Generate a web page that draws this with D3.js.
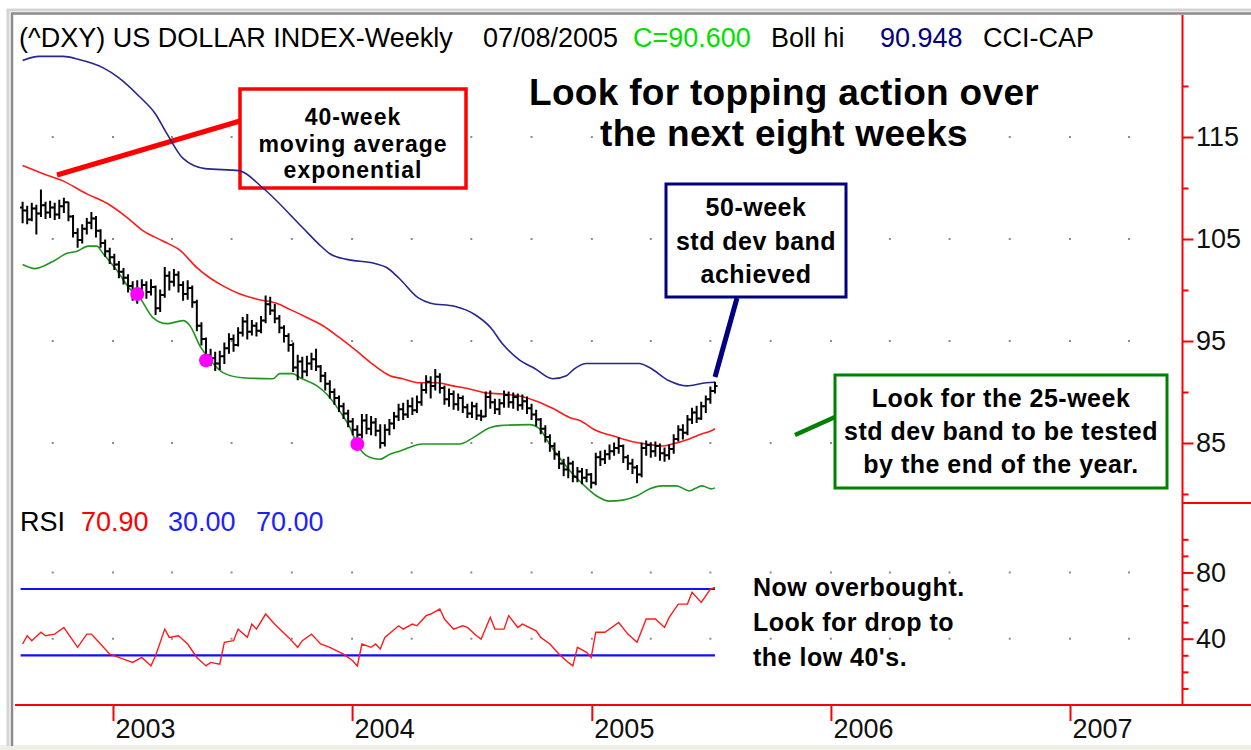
<!DOCTYPE html>
<html>
<head>
<meta charset="utf-8">
<script src="https://cdn.jsdelivr.net/npm/d3@7"></script>
<style>
  body { margin: 0; background: #fff; }
  svg { display: block; font-family: "Liberation Sans", Arial, sans-serif; }
</style>
</head>
<body>
<svg id="chart" width="1251" height="750"></svg>
<script>
// weekly bars: first bar Fri 16 Aug 2002, last bar Fri 08 Jul 2005
const firstWeek = new Date(2002, 7, 16)
const firstOpen = 108.1

const closes = [
  107.8, 106.9, 108.0, 107.5, 108.3, 107.6, 108.1, 107.4, 108.2, 108.6,
  107.2, 105.6, 104.9, 106.0, 106.6, 107.0, 105.8, 104.6, 103.8, 103.2,
  102.5, 101.8, 101.2, 100.4, 99.6, 99.8, 100.5, 99.8, 100.3, 98.2,
  99.5, 101.4, 100.8, 101.5, 100.5, 99.6, 100.2, 98.8, 96.5, 95.2,
  93.6, 93.3, 92.8, 93.5, 94.3, 95.2, 94.6, 95.8, 96.9, 95.9,
  96.5, 96.0, 97.0, 98.6, 98.0, 97.2, 96.3, 95.5, 94.6, 92.4,
  93.0, 92.0, 92.8, 93.2, 92.5, 91.6, 90.8, 90.0, 89.4, 88.6,
  87.9, 87.1, 86.3, 85.8, 87.2, 86.4, 87.0, 86.2, 85.0, 86.3,
  86.9, 87.6, 88.3, 87.8, 88.6, 88.2, 89.0, 90.2, 91.0, 90.6,
  91.5, 90.4, 89.3, 89.8, 88.8, 89.4, 88.5, 87.9, 88.6, 87.7,
  87.6, 89.5, 89.0, 88.3, 88.9, 89.7, 89.0, 89.5, 88.7, 89.1,
  88.4, 87.8, 87.3, 86.4, 85.6, 84.7, 83.9, 83.0, 82.4, 83.0,
  81.7, 82.2, 81.6, 81.9, 81.1, 83.6, 83.4, 83.9, 84.2, 84.5,
  84.7, 83.6, 83.0, 82.6, 81.9, 84.5, 84.8, 84.2, 84.7, 84.0,
  83.8, 84.4, 85.4, 86.3, 86.0, 87.3, 88.0, 87.4, 88.6, 89.3,
  90.1, 90.6
]
const highs = [
  108.6, 108.2, 108.5, 108.3, 109.8, 108.6, 108.7, 108.5, 108.8, 109.0,
  108.6, 107.3, 106.0, 106.4, 107.0, 107.6, 107.2, 105.9, 104.9, 104.1,
  103.5, 102.8, 102.1, 101.5, 100.8, 100.9, 101.0, 100.8, 101.0, 100.4,
  100.0, 102.2, 101.8, 102.0, 101.8, 100.8, 100.9, 100.4, 99.0, 96.8,
  95.3, 94.2, 93.9, 94.0, 94.8, 95.7, 95.6, 96.3, 97.3, 97.6,
  97.0, 96.8, 97.4, 99.4, 99.3, 98.6, 97.5, 96.5, 95.7, 94.8,
  93.6, 93.4, 93.5, 93.8, 94.2, 92.6, 91.9, 91.1, 90.3, 89.6,
  88.9, 88.2, 87.4, 86.7, 87.8, 87.8, 87.6, 87.4, 86.8, 86.8,
  87.3, 88.0, 88.8, 88.9, 89.2, 89.4, 89.6, 90.8, 91.6, 91.5,
  92.2, 91.8, 90.6, 90.3, 90.1, 89.8, 89.6, 88.8, 89.0, 88.9,
  88.2, 90.0, 90.1, 89.3, 89.3, 90.1, 90.0, 89.9, 89.8, 89.7,
  89.5, 88.8, 88.2, 87.4, 86.7, 85.8, 85.0, 84.2, 83.4, 83.6,
  83.2, 82.6, 82.5, 82.4, 82.0, 84.0, 84.2, 84.3, 84.8, 85.0,
  85.5, 84.8, 83.8, 83.4, 82.8, 85.0, 85.2, 85.0, 85.1, 84.9,
  84.5, 84.8, 85.8, 86.7, 86.8, 87.7, 88.4, 88.6, 89.0, 89.6,
  90.5, 90.95
]
const lows = [
  106.6, 106.5, 106.8, 105.5, 107.2, 107.0, 107.1, 106.9, 107.0, 107.6,
  106.8, 105.2, 104.2, 104.6, 105.5, 106.0, 105.2, 104.2, 103.3, 102.6,
  102.0, 101.2, 100.6, 99.8, 99.0, 98.7, 99.4, 99.2, 99.5, 97.6,
  97.9, 99.3, 100.0, 100.4, 99.8, 99.0, 99.1, 98.3, 96.0, 94.6,
  93.0, 92.6, 92.1, 92.2, 92.8, 93.8, 94.0, 94.5, 95.5, 95.2,
  95.6, 95.5, 95.8, 96.8, 97.6, 96.8, 95.8, 94.9, 94.0, 92.0,
  91.2, 91.4, 91.6, 92.2, 92.1, 91.0, 90.2, 89.4, 88.8, 88.1,
  87.4, 86.6, 85.8, 84.9, 85.5, 85.9, 85.8, 85.7, 84.5, 84.7,
  85.8, 86.4, 87.2, 87.3, 87.5, 87.8, 88.0, 88.7, 89.9, 89.4,
  90.2, 89.9, 88.8, 88.6, 88.3, 88.2, 88.0, 87.5, 87.5, 87.3,
  87.2, 87.6, 88.4, 87.9, 87.8, 88.5, 88.5, 88.4, 88.2, 88.3,
  87.9, 87.3, 86.7, 85.9, 85.1, 84.2, 83.4, 82.5, 81.8, 81.6,
  81.2, 81.2, 81.0, 81.2, 80.6, 80.9, 82.8, 83.0, 83.4, 83.8,
  84.0, 83.1, 82.4, 82.0, 81.1, 81.7, 83.8, 83.6, 83.7, 83.3,
  83.2, 83.4, 84.0, 85.2, 85.4, 85.8, 86.9, 87.0, 87.3, 88.0,
  88.9, 89.9
]

// bands as [week, value]
const upperBand = [
  [0, 122.5], [3.6, 122.9], [8.8, 122.9], [12.3, 122.6], [17.5, 121.8], [21, 120.8],
  [25.4, 119.0], [28.9, 117.3], [31.5, 115.3], [35, 112.9], [39.8, 111.9], [47.2, 111.7],
  [52.4, 110.0], [61.1, 106.1], [64.6, 104.5], [67.2, 103.5], [70.7, 103.0], [76.8, 102.6],
  [79.4, 102.2], [82, 101.2], [86.4, 99.2], [89, 98.7], [94.2, 98.4], [98.6, 97.6],
  [102.1, 96.3], [104.7, 94.7], [108.2, 93.2], [111.7, 92.3], [115.6, 91.3], [118.6, 91.6],
  [120.4, 92.3], [123, 92.8], [134.5, 92.8], [136.7, 92.4], [141, 91.1], [144.8, 90.6],
  [149.1, 90.9], [151, 90.95]
]
const emaLine = [
  [0, 112.2], [4.5, 111.4], [8.8, 110.7], [14.1, 109.4], [18.4, 108.5], [22.8, 107.1],
  [26.3, 105.8], [30.6, 104.8], [34.3, 103.9], [38, 102.2], [40.8, 101.2], [43.7, 100.4],
  [47.4, 99.6], [51.1, 99.1], [55.4, 98.7], [58.3, 98.1], [62, 97.3], [65.5, 96.5],
  [69.2, 95.3], [72.9, 94.0], [76.4, 92.7], [80.1, 91.6], [82.9, 91.3], [86.6, 90.9],
  [90.3, 90.9], [93.8, 90.6], [97.5, 90.3], [101.2, 89.9], [104.7, 89.8], [108.4, 89.6],
  [112.1, 89.1], [115.6, 88.4], [119.3, 87.5], [121.5, 87.2], [125.2, 86.2], [128.7, 85.7],
  [132.4, 85.2], [136, 84.9], [139.5, 84.7], [141.7, 84.9], [145.4, 85.4], [148.2, 85.9],
  [150.2, 86.2], [151, 86.4]
]
const lowerBand = [
  [0, 102.5], [2.7, 102.1], [6.6, 102.8], [9.7, 103.6], [11.9, 103.8], [14.3, 104.3],
  [16.2, 104.3], [17.5, 103.6], [20.6, 101.9], [23.4, 100.1], [25.6, 99.2], [28.4, 97.3],
  [31.5, 96.7], [35, 97.0], [36.5, 96.5], [38.7, 94.5], [40.8, 93.2], [43.7, 91.9],
  [48, 91.4], [54.6, 91.3], [56.1, 91.8], [58.9, 91.8], [60.5, 91.4], [64.2, 90.6],
  [66.3, 89.8], [69.2, 88.1], [71.4, 86.5], [72.9, 84.9], [75.7, 83.6], [77.9, 83.4],
  [80.1, 83.9], [82.2, 84.2], [87.3, 84.9], [95.3, 84.9], [98.2, 85.5], [101.9, 86.5],
  [104, 86.7], [110.6, 86.8], [112.7, 86.4], [114.9, 84.9], [117.7, 83.2], [119.3, 82.3],
  [122.1, 81.0], [125.2, 79.8], [128, 79.3], [130.9, 79.4], [133.9, 79.8], [136.7, 80.5],
  [139.5, 80.8], [142.6, 80.8], [145.4, 80.3], [146.9, 80.6], [148.2, 80.8], [150.2, 80.5],
  [151, 80.6]
]

// magenta marks where price touched the lower band
const touchWeeks = [25, 40, 73]
const touchVals = [99.6, 93.1, 84.9]

const rsiWeeks = [
  0, 1, 2, 4, 5, 7, 9, 10, 12, 14, 15, 17, 19, 22, 24, 26, 28, 29, 31, 32,
  34, 36, 38, 40, 41, 43, 44, 46, 47, 49, 50, 51, 53, 55, 58, 60, 61, 63, 65, 67,
  70, 72, 73, 74, 76, 77, 78, 79, 82, 83, 85, 86, 88, 89, 91, 92, 94, 96, 97, 99,
  100, 102, 103, 105, 106, 108, 109, 112, 113, 115, 117, 119, 120, 121, 123, 124, 125, 127, 130, 132,
  134, 136, 138, 140, 141, 143, 145, 146, 148, 150, 151
]
const rsiVals = [
  36.8, 41.8, 38.8, 43.9, 41.8, 42.8, 46.8, 42.8, 34.8, 42.8, 42.8, 36.8, 30.7, 27.7, 25.7, 28.7, 23.6, 29.7, 45.8, 40.8,
  41.8, 36.8, 28.7, 23.6, 25.7, 24.6, 37.8, 38.8, 45.8, 40.8, 48.8, 45.8, 54.9, 48.8, 40.8, 34.8, 38.8, 42.8, 36.8, 34.8,
  30.7, 26.7, 23.6, 36.8, 34.8, 36.8, 33.8, 40.8, 47.8, 45.8, 48.8, 47.8, 53.9, 54.9, 57.9, 51.9, 45.8, 47.8, 46.8, 41.8,
  39.8, 52.9, 45.8, 45.8, 53.9, 46.8, 48.8, 44.8, 40.8, 36.8, 30.7, 25.7, 23.6, 34.8, 31.8, 28.7, 43.9, 43.9, 49.8, 42.8,
  37.8, 51.9, 51.9, 46.8, 52.9, 60.9, 60.9, 68.0, 61.9, 70.0, 70.9
]
const rsiLevels = [30, 70]

const priceTicks = [85, 95, 105, 115]
const priceMinor = [80, 90, 100, 110, 120]
const rsiTicks = [40, 80]
const rsiMinor = [10, 20, 30, 50, 60, 70, 90, 100]
const yearTicks = [2003, 2004, 2005, 2006, 2007]

const headerParts = [
  ["(^DXY) US DOLLAR INDEX-Weekly", "#000"],
  ["07/08/2005", "#000"],
  ["C=90.600", "#00e000"],
  ["Boll hi", "#000"],
  ["90.948", "#000080"],
  ["CCI-CAP", "#000"]
]
const rsiHeader = [["RSI", "#000"], ["70.90", "#ff0000"], ["30.00", "#1e1eff"], ["70.00", "#1e1eff"]]

const titleLines = ["Look for topping action over", "the next eight weeks"]
const emaNote = ["40-week", "moving average", "exponential"]
const upperNote = ["50-week", "std dev band", "achieved"]
const lowerNote = ["Look for the 25-week", "std dev band to be tested", "by the end of the year."]
const rsiNote = ["Now overbought.", "Look for drop to", "the low 40's."]


const svg = d3.select("#chart")
const W = +svg.attr("width"), H = +svg.attr("height")

const plotLeft = 15, plotTop = 15, axisX = 1182.5, split = 503, baseY = 705

const x = d3.scaleTime()
  .domain([new Date(2003, 0, 1), new Date(2007, 0, 1)])
  .range([113, 1070])
const yPrice = d3.scaleLinear().domain([85, 115]).range([443, 137])
const yRsi = d3.scaleLinear().domain([0, 100]).range([705, 539.3])

const xWeek = w => x(new Date(firstWeek.getTime() + w * 7 * 864e5))

// background + inset frame
svg.append("rect").attr("width", W).attr("height", H).attr("fill", "#fff")
svg.append("rect").attr("y", 745).attr("width", W).attr("height", 5).attr("fill", "#efefe8")
svg.append("path").attr("d", `M8,746V10H${W}`)
  .attr("fill", "none").attr("stroke", "#d4d4d4").attr("stroke-width", 3)
svg.append("path").attr("d", `M12,746V13.5H${W}`)
  .attr("fill", "none").attr("stroke", "#8a8a8a").attr("stroke-width", 2.5)

// dotted grid, one column per quarter
const quarters = d3.timeMonth.every(3).range(new Date(2002, 9, 1), new Date(2007, 4, 1))
const dots = []
quarters.forEach(q => {
  priceTicks.forEach(v => dots.push([x(q), yPrice(v)]))
  rsiTicks.forEach(v => dots.push([x(q), yRsi(v)]))
})
svg.append("g").selectAll("rect").data(dots).join("rect")
  .attr("x", d => d[0] - 1).attr("y", d => d[1] - 1)
  .attr("width", 2).attr("height", 2).attr("fill", "#8c8c8c")

// annotation boxes (white fill, chart lines go over them)
function noteBox(x0, y0, x1, y1, color, sw) {
  svg.append("rect")
    .attr("x", x0).attr("y", y0).attr("width", x1 - x0).attr("height", y1 - y0)
    .attr("fill", "#fff").attr("stroke", color).attr("stroke-width", sw)
}
noteBox(240, 89, 466, 188, "#ff0000", 3.5)
noteBox(666, 184, 846, 297, "#000080", 3)
noteBox(835, 375, 1167, 488, "#008000", 3)

// pointer strokes
svg.append("line").attr("x1", 57).attr("y1", 175).attr("x2", 240).attr("y2", 121)
  .attr("stroke", "#ff0000").attr("stroke-width", 5)
svg.append("line").attr("x1", 737).attr("y1", 298).attr("x2", 715).attr("y2", 377)
  .attr("stroke", "#000080").attr("stroke-width", 5)
svg.append("line").attr("x1", 795).attr("y1", 435).attr("x2", 835).attr("y2", 417)
  .attr("stroke", "#008000").attr("stroke-width", 4.5)

// bands
const bandLine = d3.line()
  .x(d => xWeek(d[0]))
  .y(d => yPrice(d[1]))
  .curve(d3.curveMonotoneX)

svg.append("path").datum(upperBand).attr("d", bandLine)
  .attr("fill", "none").attr("stroke", "#26268f").attr("stroke-width", 1.6)
svg.append("path").datum(emaLine).attr("d", bandLine)
  .attr("fill", "none").attr("stroke", "#ff1a1a").attr("stroke-width", 1.6)
svg.append("path").datum(lowerBand).attr("d", bandLine)
  .attr("fill", "none").attr("stroke", "#1e961e").attr("stroke-width", 1.6)

// OHLC bars
svg.append("g").attr("fill", "none").attr("stroke", "#000").attr("stroke-width", 2)
  .selectAll("path").data(d3.range(closes.length)).join("path")
  .attr("d", i => {
    const xi = xWeek(i), open = i ? closes[i - 1] : firstOpen
    return `M${xi},${yPrice(highs[i]) - 0.5}V${yPrice(lows[i]) + 0.5}` +
      `M${xi - 2.6},${yPrice(open)}H${xi}` +
      `M${xi},${yPrice(closes[i])}H${xi + 2.6}`
  })

svg.append("g").selectAll("circle").data(touchWeeks).join("circle")
  .attr("cx", d => xWeek(d))
  .attr("cy", (d, i) => yPrice(touchVals[i]))
  .attr("r", 7).attr("fill", "#ff00ff")

// RSI panel
const lastX = xWeek(closes.length - 1)
svg.append("g").selectAll("line").data(rsiLevels).join("line")
  .attr("x1", xWeek(0) - 2).attr("x2", lastX)
  .attr("y1", d => yRsi(d)).attr("y2", d => yRsi(d))
  .attr("stroke", "#1010ff").attr("stroke-width", 2.2)

const rsiLine = d3.line()
  .x(d => xWeek(d[0]))
  .y(d => yRsi(d[1]))
svg.append("path").datum(d3.zip(rsiWeeks, rsiVals)).attr("d", rsiLine)
  .attr("fill", "none").attr("stroke", "#ff1a1a").attr("stroke-width", 1.4)

// axes frame (red)
const red = "#ff0000"
svg.append("line").attr("x1", axisX).attr("x2", axisX).attr("y1", plotTop).attr("y2", baseY)
  .attr("stroke", red).attr("stroke-width", 2)
svg.append("line").attr("x1", axisX).attr("x2", W).attr("y1", split).attr("y2", split)
  .attr("stroke", red).attr("stroke-width", 2)
svg.append("line").attr("x1", plotLeft).attr("x2", W).attr("y1", baseY).attr("y2", baseY)
  .attr("stroke", red).attr("stroke-width", 2)

function styleAxis(g) {
  g.select(".domain").remove()
  g.selectAll(".tick line").attr("stroke", red).attr("stroke-width", 2)
  g.selectAll(".tick text").attr("fill", "#111").attr("font-size", 27)
    .attr("font-family", "Liberation Sans, Arial, sans-serif")
}

svg.append("g").attr("transform", `translate(${axisX},0)`)
  .call(d3.axisRight(yPrice).tickValues(priceMinor).tickSize(6).tickFormat(""))
  .call(styleAxis)
svg.append("g").attr("transform", `translate(${axisX},0)`)
  .call(d3.axisRight(yPrice).tickValues(priceTicks).tickSize(11).tickPadding(2.5))
  .call(styleAxis)
svg.append("g").attr("transform", `translate(${axisX},0)`)
  .call(d3.axisRight(yRsi).tickValues(rsiMinor).tickSize(6).tickFormat(""))
  .call(styleAxis)
svg.append("g").attr("transform", `translate(${axisX},0)`)
  .call(d3.axisRight(yRsi).tickValues(rsiTicks).tickSize(11).tickPadding(2.5))
  .call(styleAxis)

const timeAxis = svg.append("g").attr("transform", `translate(0,${baseY})`)
  .call(d3.axisBottom(x)
    .tickValues(yearTicks.map(y => new Date(y, 0, 1)))
    .tickSize(16)
    .tickFormat(d3.timeFormat("%Y")))
  .call(styleAxis)
timeAxis.selectAll(".tick text")
  .attr("text-anchor", "start").attr("x", 2).attr("y", 14).attr("dy", "0.71em")

// header lines
const headerX = [19, 483, 633, 771, 880, 983]
svg.append("g").attr("font-size", 27)
  .selectAll("text").data(headerParts).join("text")
  .attr("x", (d, i) => headerX[i]).attr("y", 47)
  .attr("fill", d => d[1]).text(d => d[0])

const rsiX = [20, 81, 168, 256]
svg.append("g").attr("font-size", 27)
  .selectAll("text").data(rsiHeader).join("text")
  .attr("x", (d, i) => rsiX[i]).attr("y", 531)
  .attr("fill", d => d[1]).text(d => d[0])

// notes
svg.append("g").attr("font-size", 37).attr("font-weight", "bold")
  .attr("letter-spacing", 0.3).attr("text-anchor", "middle")
  .selectAll("text").data(titleLines).join("text")
  .attr("x", 784).attr("y", (d, i) => 105 + i * 41).text(d => d)

function noteText(lines, cx, y0, step, size, anchor) {
  svg.append("g").attr("font-size", size).attr("font-weight", "bold")
    .attr("letter-spacing", size < 25 ? 1 : 0.5).attr("text-anchor", anchor || "middle")
    .selectAll("text").data(lines).join("text")
    .attr("x", cx).attr("y", (d, i) => y0 + i * step).text(d => d)
}
noteText(emaNote, 353, 125, 26.5, 23)
noteText(upperNote, 756, 216, 33.5, 25)
noteText(lowerNote, 1001, 407, 33, 25)
noteText(rsiNote, 753, 596, 35, 25, "start")
</script>
</body>
</html>
